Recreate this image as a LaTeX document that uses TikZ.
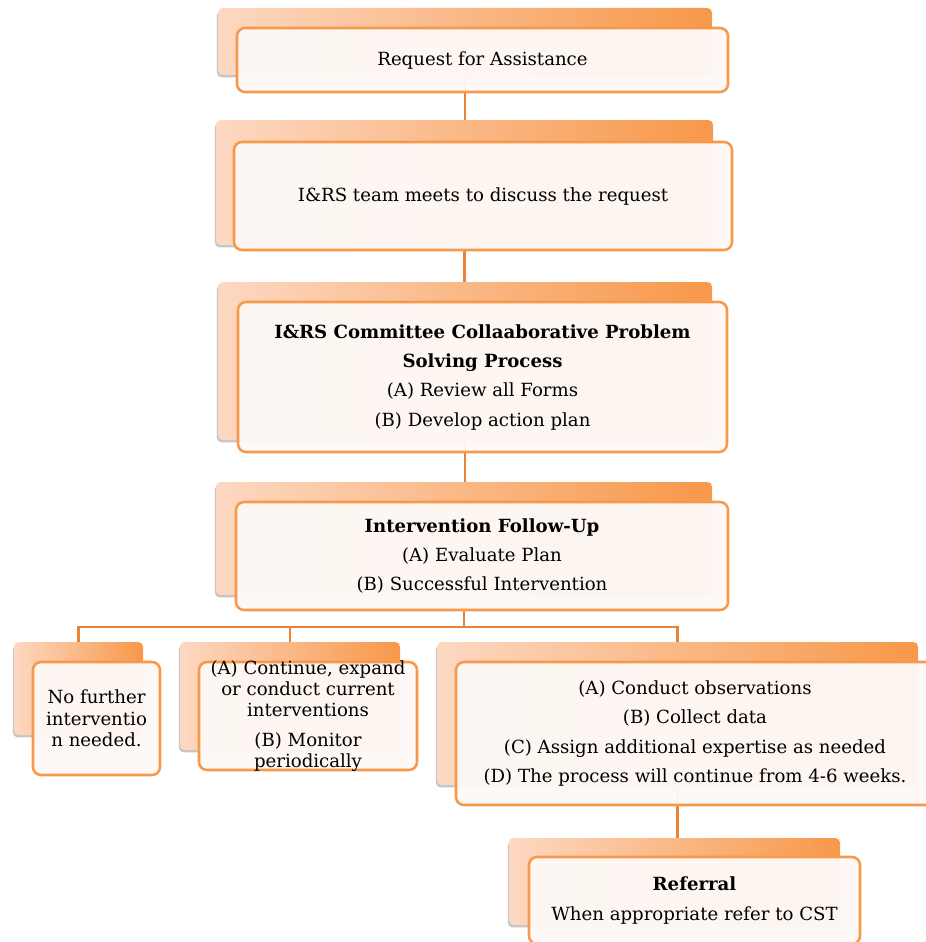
\documentclass[tikz,border=0pt]{standalone}
\usepackage{fontspec}
\setmainfont{DejaVu Serif}
\usetikzlibrary{fit,shadows}
\definecolor{peach}{RGB}{253,216,194}
\definecolor{tangerine}{RGB}{247,152,74}
\definecolor{rust}{RGB}{234,131,58}
\definecolor{paper}{RGB}{254,249,246}
\tikzset{
  back/.style={rounded corners=3.5pt,left color=peach,right color=tangerine,inner sep=0pt,
    drop shadow={shadow xshift=-0.8pt,shadow yshift=-1.8pt,fill=black!50,opacity=0.45}},
  front/.style={draw=tangerine,line width=1.9pt,rounded corners=6pt,fill=paper,fill opacity=0.96,inner sep=0pt},
  txt/.style={align=center,font=\fontsize{13.6}{16}\selectfont,inner sep=0pt},
  link/.style={draw=rust,line width=2.2pt}
}

\begin{document}
\begin{tikzpicture}[x=0.75pt,y=-0.75pt]
  \useasboundingbox (0,0) rectangle (925,942);
  \node[back,fit={(218,8) (712,75)}] (b1) {};
  \node[back,fit={(216,120) (713,245)}] (b2) {};
  \node[back,fit={(218,282) (712,440)}] (b3) {};
  \node[back,fit={(216,482) (712,595)}] (b4) {};
  \node[back,fit={(14,642) (143,735)}] (b5) {};
  \node[back,fit={(180,642) (400,750)}] (b6) {};
  \node[back,fit={(437,642) (918,785)}] (b7) {};
  \node[back,fit={(509,838) (840,925)}] (b8) {};

  \coordinate (bus) at (463,627);
  \draw[link] (b1.south) -- (b1.south |- b2.north);
  \draw[link] (b2.south) -- (b2.south |- b3.north);
  \draw[link] (b3.south) -- (b3.south |- b4.north);
  \draw[link] (b4.south) -- (b4.south |- bus);
  \draw[link] (b5.north) |- (bus) -| (b7.north);
  \draw[link] (b6.north) -- (b6.north |- bus);
  \draw[link] (b7.south) -- (b7.south |- b8.north);

  \node[front,fit={(237,28) (728,92)}] (f1) {};
  \node[front,fit={(234,142) (732,250)}] (f2) {};
  \node[front,fit={(238,302) (727,452)}] (f3) {};
  \node[front,fit={(236,502) (728,610)}] (f4) {};
  \node[front,fit={(33,662) (160,775)}] (f5) {};
  \node[front,fit={(199,662) (417,770)}] (f6) {};
  \node[front,fit={(456,662) (934,805)}] (f7) {};
  \node[front,fit={(529,857) (860,944)}] (f8) {};

  \node[txt] (t1) at (f1) {Request for Assistance};
  \node[txt] (t2) at (f2) {I\&RS team meets to discuss the request};
  \node[txt] (t3) at (f3) {\textbf{I\&RS Committee Collaaborative Problem}\\[6pt]
    \textbf{Solving Process}\\[6pt] (A) Review all Forms\\[6pt] (B) Develop action plan};
  \node[txt] (t4) at (f4) {\textbf{Intervention Follow-Up}\\[6pt] (A) Evaluate Plan\\[6pt]
    (B) Successful Intervention};
  \node[txt] (t5) at (f5) {No further\\ interventio\\ n needed.};
  \node[txt] (t6) at (f6) {(A) Continue, expand\\ or conduct current\\ interventions\\[6pt]
    (B) Monitor\\ periodically};
  \node[txt] (t7) at (f7) {(A) Conduct observations\\[6pt] (B) Collect data\\[6pt]
    (C) Assign additional expertise as needed\\[6pt] (D) The process will continue from 4-6 weeks.};
  \node[txt] (t8) at (f8) {\textbf{Referral}\\[6pt] When appropriate refer to CST};
\end{tikzpicture}
\end{document}
